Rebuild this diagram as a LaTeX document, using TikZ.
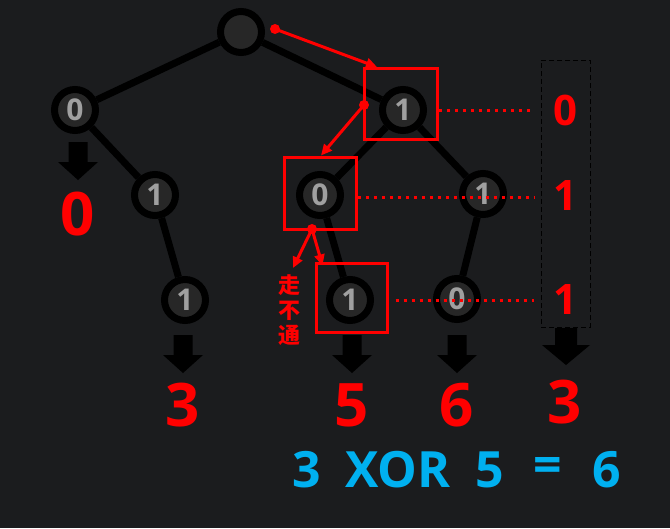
\documentclass[tikz,border=0pt]{standalone}
\usepackage{fontspec}
\setmainfont{Open Sans}
\newfontfamily\cjk{Noto Sans CJK SC}
\usetikzlibrary{arrows.meta}
\definecolor{bg}{HTML}{1B1C1E}
\definecolor{nodefill}{HTML}{272727}
\definecolor{digitgray}{HTML}{A0A0A0}
\definecolor{hl}{HTML}{FF0000}
\definecolor{xorblue}{HTML}{00B0F0}
\pgfdeclarelayer{backdrop}
\pgfdeclarelayer{edgelayer}
\pgfsetlayers{backdrop,edgelayer,main}
\begin{document}
\begin{tikzpicture}[x=1pt,y=-1pt,
  tnode/.style={circle,draw=black,line width=7pt,fill=nodefill,minimum size=41pt,inner sep=0pt,
    text=digitgray,font=\fontsize{30}{30}\selectfont\bfseries},
  treeedge/.style={line width=7pt,draw=black},
  hlbox/.style={draw=hl,line width=3pt,inner sep=0pt},
  hlarrow/.style={draw=hl,line width=3pt,-{Triangle[length=11pt,width=10pt]}},
  hldot/.style={circle,fill=hl,inner sep=0pt,minimum size=10pt},
  dotline/.style={draw=hl,line width=3pt,dash pattern=on 3pt off 5pt},
  bigred/.style={text=hl,font=\fontsize{60}{60}\selectfont\bfseries},
  midred/.style={text=hl,font=\fontsize{42}{42}\selectfont\bfseries},
  bluetext/.style={text=xorblue,font=\fontsize{50}{50}\selectfont\bfseries},
  blockarrow/.pic={\fill[black] (-9.5,0)--(9.5,0)--(9.5,20)--(20,20)--(0,38)--(-20,20)--(-9.5,20)--cycle;},
  bigblockarrow/.pic={\fill[black] (-11,0)--(11,0)--(11,17)--(24,17)--(0,37)--(-24,17)--(-11,17)--cycle;}
]
\begin{pgfonlayer}{backdrop}
  \fill[bg] (0,0) rectangle (670,528);
\end{pgfonlayer}
\useasboundingbox (0,0) rectangle (670,528);

% tree nodes
\node[tnode] (root) at (241,32) {};
\node[tnode] (l0) at (75,110) {0};
\node[tnode] (r1) at (403,110) {1};
\node[tnode] (l1) at (155,195) {1};
\node[tnode] (l11) at (185,300) {1};
\node[tnode] (m0) at (320,195) {0};
\node[tnode] (m1) at (350,300) {1};
\node[tnode] (r11) at (483,194) {1};
\node[tnode] (r10) at (457,299) {0};

\begin{pgfonlayer}{edgelayer}
  \draw[treeedge] (root) -- (l0);
  \draw[treeedge] (root) -- (r1);
  \draw[treeedge] (l0) -- (l1);
  \draw[treeedge] (l1) -- (l11);
  \draw[treeedge] (r1) -- (m0);
  \draw[treeedge] (m0) -- (m1);
  \draw[treeedge] (r1) -- (r11);
  \draw[treeedge] (r11) -- (r10);
\end{pgfonlayer}

% block arrows and results
\pic at (78,142) {blockarrow};
\pic at (183,335) {blockarrow};
\pic at (352,335) {blockarrow};
\pic at (457,335) {blockarrow};
\pic at (566,328) {bigblockarrow};
\node[bigred] (res0) at (78,214) {0};
\node[bigred] (res3) at (183,405) {3};
\node[bigred] (res5) at (352,405) {5};
\node[bigred] (res6) at (457,405) {6};
\node[bigred] (resq) at (565,402) {3};

% query column
\node[draw=black,line width=1pt,dash pattern=on 5pt off 3pt,minimum width=49pt,minimum height=267pt,inner sep=0pt] (colbox) at (565.5,193.5) {};
\node[midred] (q0) at (565,110) {0};
\node[midred] (q1) at (565,196) {1};
\node[midred] (q2) at (565,300) {1};
\coordinate (col0) at (534,110);
\coordinate (col1) at (534,197);
\coordinate (col2) at (534,300);

% highlight boxes
\node[hlbox,minimum width=73pt,minimum height=71pt] (b1) at (401,104) {};
\node[hlbox,minimum width=72pt,minimum height=72pt] (b2) at (320,193) {};
\node[hlbox,minimum width=71pt,minimum height=69pt] (b3) at (351.5,297.5) {};

\draw[dotline] (b1.east |- col0) -- (col0);
\draw[dotline] (b2.east |- col1) -- (col1);
\draw[dotline] ([xshift=7pt]b3.east |- col2) -- (col2);

% path arrows
\node[hldot] (d1) at (275,29) {};
\node[hldot] (d2) at (364,105) {};
\node[hldot] (d3) at (312,229) {};
\coordinate (dead) at (293,268);
\draw[hlarrow] (d1.center) -- ([xshift=-24pt]b1.north);
\draw[hlarrow] (d2.center) -- ([xshift=1pt]b2.north);
\draw[hlarrow] (d3.center) -- (dead);
\draw[hlarrow] (d3.center) -- ([xshift=8pt,yshift=-4pt]b3.north west);
\node[text=hl,font=\fontsize{22}{25}\selectfont\cjk\bfseries,align=center,inner sep=0pt] (nogo) at (289,310) {走\\不\\通};

% equation
\node[bluetext] (e1) at (307,470) {3};
\node[bluetext] (e2) at (398,470) {XOR};
\node[bluetext] (e3) at (490,470) {5};
\node[bluetext] (e4) at (548,470) {=};
\node[bluetext] (e5) at (607,470) {6};
\end{tikzpicture}
\end{document}
